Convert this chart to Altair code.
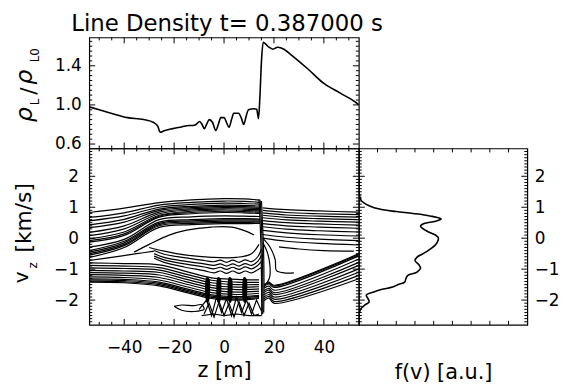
import altair as alt
import pandas as pd

FONT = "DejaVu Sans"

# ---------------- data ----------------
title_text = "Line Density t= 0.387000 s"

# line density (top panel)
dens_z = [-54, -50, -45.3, -38.7, -32.2, -28.2, -26.5, -25.6, -24, -21, -17, -14,
          -12.5, -11.2, -9.8, -8.8, -7.9, -7.0, -5.9, -4.6, -3.3, -2.3, -1.3, 0.0,
          1.0, 2.0, 3.0, 3.9, 5.8, 7.0, 7.9, 8.8, 9.8, 12.0, 13.1, 13.8, 14.4, 15.0,
          15.7, 16.8, 18.0, 19.6, 21.5, 24.0, 27.0, 33.5, 40.0, 46.6, 52.5, 54.0]
dens_rho = [0.98, 0.95, 0.915, 0.87, 0.85, 0.82, 0.78, 0.72, 0.735, 0.755, 0.775, 0.79,
            0.79, 0.80, 0.83, 0.80, 0.757, 0.80, 0.85, 0.82, 0.74, 0.80, 0.87, 0.87,
            0.82, 0.77, 0.85, 0.915, 0.915, 0.86, 0.80, 0.88, 0.95, 0.96, 0.955, 0.86, 1.10, 1.45,
            1.64, 1.62, 1.59, 1.57, 1.59, 1.57, 1.51, 1.37, 1.22, 1.12, 1.03, 1.00]

# distribution function (right panel)
fv_v = [2.9, 1.6, 1.42, 1.25, 1.15, 1.05, 0.94, 0.86, 0.80, 0.72, 0.62, 0.55, 0.45, 0.38,
        0.24, 0.10, 0.01, -0.12, -0.24, -0.40, -0.51, -0.62, -0.72, -0.85, -0.97, -1.10,
        -1.20, -1.30, -1.42, -1.50, -1.58, -1.66, -1.74, -1.84, -1.96, -2.06, -2.15, -2.25,
        -2.38, -2.54, -2.8]
fv_f = [0.0, 0.0, 0.03, 0.1, 0.25, 0.55, 1.1, 2.0, 2.9, 3.8, 4.4, 4.1, 3.4, 3.3,
        3.6, 4.1, 4.25, 4.2, 4.05, 3.7, 3.4, 3.1, 3.0, 3.2, 3.3, 3.1,
        2.62, 2.52, 2.45, 2.1, 1.8, 1.2, 0.8, 0.4, 0.5, 0.55, 0.35, 0.15,
        0.04, 0.0, 0.0]

# phase-space contour lines (bottom-left panel)
ub_left_z = [-54, -40, -26, -13, 0, 8, 14.5]
ub_left_v = [
    [0.83, 0.97, 1.15, 1.24, 1.28, 1.27, 1.23],
    [0.67, 0.82, 1.07, 1.16, 1.20, 1.19, 1.16],
    [0.56, 0.72, 1.00, 1.09, 1.13, 1.12, 1.10],
    [0.43, 0.61, 0.94, 1.03, 1.07, 1.06, 1.04],
    [0.34, 0.52, 0.89, 0.99, 1.03, 1.02, 1.00],
    [0.19, 0.40, 0.84, 0.95, 0.99, 0.98, 0.96],
    [0.08, 0.30, 0.79, 0.91, 0.95, 0.94, 0.92],
    [-0.02, 0.20, 0.74, 0.87, 0.91, 0.90, 0.88],
    [-0.08, 0.14, 0.71, 0.83, 0.87, 0.86, 0.84],
    [-0.13, 0.09, 0.68, 0.79, 0.83, 0.82, 0.80],
    [-0.29, -0.04, 0.60, 0.69, 0.72, 0.71, 0.70],
    [-0.40, -0.10, 0.52, 0.60, 0.63, 0.63, 0.62],
    [-0.45, -0.15, 0.48, 0.56, 0.59, 0.59, 0.59],
    [-0.50, -0.20, 0.44, 0.52, 0.55, 0.55, 0.55],
    [-0.55, -0.24, 0.40, 0.48, 0.51, 0.51, 0.52],
    [-0.62, -0.30, 0.35, 0.44, 0.47, 0.47, 0.48],
]
ub_right_z = [15.5, 25, 38, 54]
ub_right_v = [
    [0.98, 0.92, 0.88, 0.84],
    [0.90, 0.83, 0.79, 0.76],
    [0.82, 0.75, 0.71, 0.68],
    [0.74, 0.67, 0.63, 0.60],
    [0.66, 0.59, 0.55, 0.52],
    [0.57, 0.50, 0.46, 0.42],
    [0.47, 0.40, 0.36, 0.32],
    [0.37, 0.29, 0.24, 0.20],
    [0.25, 0.17, 0.11, 0.07],
    [0.12, 0.03, -0.03, -0.08],
    [0.00, -0.10, -0.17, -0.22],
]
lb_left_z = [-54, -40, -26, -15, -5, 5, 14]
lb_left_v = [
    [-0.80, -0.82, -0.86, -1.08, -1.28, -1.33, -1.35],
    [-0.88, -0.90, -0.95, -1.17, -1.36, -1.42, -1.43],
    [-0.96, -0.98, -1.03, -1.25, -1.44, -1.50, -1.50],
    [-1.04, -1.06, -1.11, -1.33, -1.52, -1.58, -1.57],
    [-1.11, -1.13, -1.19, -1.41, -1.60, -1.66, -1.64],
    [-1.18, -1.20, -1.27, -1.49, -1.68, -1.74, -1.71],
    [-1.25, -1.27, -1.35, -1.57, -1.76, -1.82, -1.78],
    [-1.31, -1.33, -1.42, -1.64, -1.83, -1.89, -1.85],
    [-1.35, -1.37, -1.46, -1.68, -1.87, -1.93, -1.88],
    [-1.39, -1.41, -1.50, -1.72, -1.91, -1.97, -1.92],
    [-1.42, -1.44, -1.54, -1.76, -1.95, -2.00, -1.95],
]
lb_right_z = [16, 18, 20, 54]
lb_right_v = [
    [-1.50, -1.42, -1.52, -0.50],
    [-1.53, -1.45, -1.55, -0.53],
    [-1.56, -1.48, -1.59, -0.57],
    [-1.62, -1.55, -1.68, -0.67],
    [-1.70, -1.62, -1.76, -0.78],
    [-1.76, -1.68, -1.82, -0.88],
    [-1.83, -1.75, -1.90, -0.99],
    [-1.90, -1.82, -1.97, -1.10],
    [-1.96, -1.88, -2.04, -1.20],
    [-2.02, -1.94, -2.10, -1.31],
]
wave_z = [-28, -24, -16, -8, -4, -1.5, 1, 3.5, 6, 8.5, 11, 13.5, 15]
wave_v = [
    [-0.40, -0.52, -0.63, -0.72, -0.76, -0.71, -0.78, -0.71, -0.78, -0.70, -0.76, -0.60, -0.35],
    [-0.50, -0.62, -0.74, -0.83, -0.88, -0.83, -0.90, -0.83, -0.90, -0.82, -0.88, -0.75, -0.55],
    [-0.58, -0.70, -0.83, -0.93, -0.99, -0.94, -1.01, -0.94, -1.01, -0.93, -0.99, -0.88, -0.75],
    [-0.65, -0.78, -0.93, -1.05, -1.12, -1.06, -1.14, -1.06, -1.14, -1.06, -1.12, -1.02, -0.95],
]
other_z = [
    [-36, -30, -22, -15, -5, 3, 9, 12],          # upper inner contour
    [-30, -24, -15, -5, 5, 11, 14],              # lower inner contour
    [14.0, 14.4, 14.8, 15.0, 15.1],              # shock front
    [14.5, 14.9, 15.3, 15.5, 15.5],
    [15.0, 15.4, 15.8, 16.0, 15.9],
    [15.5, 18.5, 20.5, 21.0, 24.0, 28.0],        # loops behind the shock
    [15.6, 17.5, 18.4, 18.3, 17.2],
    [-54, -45, -35, -28],                        # contour between the bands
    [22, 30, 40, 52],
    [-20, -17, -12, -9, -8, -12, -17, -20],      # small closed loop
]
other_v = [
    [-0.45, -0.20, 0.10, 0.26, 0.36, 0.36, 0.22, 0.10],
    [-0.30, -0.42, -0.55, -0.62, -0.62, -0.50, -0.20],
    [1.24, 0.60, -0.30, -1.30, -2.50],
    [1.22, 0.60, -0.30, -1.30, -2.45],
    [1.20, 0.50, -0.30, -1.30, -2.40],
    [0.00, -0.30, -0.70, -1.05, -1.12, -1.12],
    [-0.15, -0.50, -0.90, -1.25, -1.45],
    [-0.72, -0.62, -0.50, -0.42],
    [-0.28, -0.35, -0.40, -0.42],
    [-2.20, -2.16, -2.18, -2.15, -2.30, -2.37, -2.33, -2.20],
]
zig_z = [
    [-10, -7, -5, -3, -1, 1, 3, 5, 7, 9, 11, 13, 15],
    [-8, -6, -4, -2, 0, 2, 4, 6, 8, 10, 12, 14],
    [-9, -4, 0, 5, 10, 15],
]
zig_v = [
    [-2.30, -2.00, -2.50, -1.90, -2.40, -1.95, -2.50, -1.90, -2.40, -2.00, -2.45, -2.00, -2.35],
    [-2.45, -2.10, -2.55, -2.05, -2.50, -2.10, -2.55, -2.05, -2.50, -2.10, -2.50, -2.45],
    [-2.50, -2.45, -2.50, -2.45, -2.50, -2.50],
]
finger_z = [
    [-7.0, -6.7, -6.3, -6.2, -6.5, -6.9, -7.0],
    [-2.5, -2.2, -1.8, -1.7, -2.0, -2.4, -2.5],
    [2.0, 2.3, 2.7, 2.8, 2.5, 2.1, 2.0],
    [7.9, 8.2, 8.6, 8.7, 8.4, 8.0, 7.9],
]
finger_v = [
    [-1.50, -1.30, -1.35, -1.70, -2.05, -1.90, -1.50],
    [-1.50, -1.30, -1.35, -1.70, -2.05, -1.90, -1.50],
    [-1.50, -1.30, -1.35, -1.70, -2.05, -1.90, -1.50],
    [-1.50, -1.30, -1.35, -1.70, -2.05, -1.90, -1.50],
]

# tick values
z_major = [-40, -20, 0, 20, 40]
z_minor = [-50, -45, -35, -30, -25, -15, -10, -5, 5, 10, 15, 25, 30, 35, 45, 50]
v_major = [-2, -1, 0, 1, 2]
v_minor = [round(-2.7 + 0.1 * k, 2) for k in range(56) if abs(round(-2.7 + 0.1 * k, 2)) % 1 > 1e-6]
rho_major = [0.6, 1.0, 1.4]
rho_minor = [round(0.6 + 0.05 * k, 3) for k in range(22) if round(0.6 + 0.05 * k, 3) not in (0.6, 1.0, 1.4)]
f_ticks = [1, 2, 3, 4, 5, 6, 7, 8]

# ---------------- build tables ----------------
def lines_df(zsets, vsets):
    rows = []
    for lid, (zl, vl) in enumerate(zip(zsets, vsets)):
        for i, (a, b) in enumerate(zip(zl, vl)):
            rows.append({"line": lid, "i": i, "z": a, "v": b})
    return pd.DataFrame(rows)

smooth_z = ([ub_left_z] * len(ub_left_v) + [ub_right_z] * len(ub_right_v) +
            [lb_left_z] * len(lb_left_v) + [lb_right_z] * len(lb_right_v) +
            [wave_z] * len(wave_v) + other_z)
smooth_v = ub_left_v + ub_right_v + lb_left_v + lb_right_v + wave_v + other_v
df_smooth = lines_df(smooth_z, smooth_v)
df_zig = lines_df(zig_z, zig_v)
df_finger = lines_df(finger_z, finger_v)
df_dens = pd.DataFrame({"z": dens_z, "rho": dens_rho})
df_fv = pd.DataFrame({"i": list(range(len(fv_v))), "v": fv_v, "f": fv_f})
dummy = pd.DataFrame({"a": [0]})

zs = alt.Scale(domain=[-54, 54], nice=False, zero=False)
vs = alt.Scale(domain=[-2.8, 2.9], nice=False, zero=False)
rs = alt.Scale(domain=[0.555, 1.69], nice=False, zero=False)
fs = alt.Scale(domain=[0, 9], nice=False, zero=False)

MAJ, MIN = 6, 3


def x_ticks(vals, scale, H, L):
    d = pd.DataFrame({"t": vals})
    b = alt.Chart(d).mark_rule(color="black", strokeWidth=1)
    return [
        b.encode(x=alt.X("t:Q", scale=scale), y=alt.value(0), y2=alt.value(L)),
        b.encode(x=alt.X("t:Q", scale=scale), y=alt.value(H), y2=alt.value(H - L)),
    ]


def y_ticks(vals, scale, W, L):
    d = pd.DataFrame({"t": vals})
    b = alt.Chart(d).mark_rule(color="black", strokeWidth=1)
    return [
        b.encode(y=alt.Y("t:Q", scale=scale), x=alt.value(0), x2=alt.value(L)),
        b.encode(y=alt.Y("t:Q", scale=scale), x=alt.value(W), x2=alt.value(W - L)),
    ]


def label(txt, x, y, size, italic=False, angle=270, align="center", baseline="alphabetic"):
    kw = dict(text=txt, font=FONT, fontSize=size, align=align,
              baseline=baseline, color="black")
    if angle:
        kw["angle"] = angle
    if italic:
        kw["fontStyle"] = "italic"
    return alt.Chart(dummy).mark_text(**kw).encode(x=alt.value(x), y=alt.value(y))


TW, TH = 272, 112
BH = 178
RW = 170

# ---------------- top panel ----------------
dens_line = alt.Chart(df_dens).mark_line(color="black", strokeWidth=1.6, interpolate="monotone", clip=True).encode(
    x=alt.X("z:Q", scale=zs, axis=None),
    y=alt.Y("rho:Q", scale=rs, axis=alt.Axis(values=rho_major, format=".1f", ticks=False, domain=False,
                                             labelPadding=8, title=None, grid=False)),
)
top = alt.layer(
    dens_line,
    *x_ticks(z_major, zs, TH, MAJ), *x_ticks(z_minor, zs, TH, MIN),
    *y_ticks(rho_major, rs, TW, MAJ), *y_ticks(rho_minor, rs, TW, MIN),
    label("ρ", -58, 78, 24, True),
    label("L", -51, 65, 12),
    label("/", -54, 54, 22),
    label("ρ", -58, 40, 24, True),
    label("L0", -51, 18, 12),
    label(title_text, TW / 2 + 3, -25, 23, angle=0, baseline="top"),
).properties(width=TW, height=TH)

empty = alt.Chart(dummy).mark_point(opacity=0).encode(x=alt.value(0), y=alt.value(TH)).properties(
    width=RW, height=TH, view=alt.ViewBackground(strokeOpacity=0))

# ---------------- phase space ----------------
ax_z = alt.Axis(values=z_major, format="d", ticks=False, domain=False, labelPadding=15,
                title="z [m]", titlePadding=4, grid=False)
ax_v = alt.Axis(values=v_major, format="d", ticks=False, domain=False, labelPadding=11,
                title=None, grid=False)
smooth = alt.Chart(df_smooth).mark_line(color="black", strokeWidth=1.2, interpolate="catmull-rom", clip=True).encode(
    x=alt.X("z:Q", scale=zs, axis=ax_z), y=alt.Y("v:Q", scale=vs, axis=ax_v),
    detail="line:N", order="i:Q")
zig = alt.Chart(df_zig).mark_line(color="black", strokeWidth=1.2, clip=True).encode(
    x=alt.X("z:Q", scale=zs), y=alt.Y("v:Q", scale=vs),
    detail="line:N", order="i:Q")
fingers = alt.Chart(df_finger).mark_line(color="black", strokeWidth=3, interpolate="catmull-rom", clip=True).encode(
    x=alt.X("z:Q", scale=zs), y=alt.Y("v:Q", scale=vs),
    detail="line:N", order="i:Q")
bl = alt.layer(
    smooth, zig, fingers,
    *x_ticks(z_major, zs, BH, MAJ), *x_ticks(z_minor, zs, BH, MIN),
    *y_ticks(v_major, vs, TW, MAJ), *y_ticks(v_minor, vs, TW, MIN),
    label("v", -62, 130, 20),
    label("z", -53, 118, 12),
    label("[km/s]", -59, 70, 22),
).properties(width=TW, height=BH)

# ---------------- distribution ----------------
fv_line = alt.Chart(df_fv).mark_line(color="black", strokeWidth=1.6, interpolate="catmull-rom", clip=True).encode(
    x=alt.X("f:Q", scale=fs, axis=alt.Axis(labels=False, ticks=False, domain=False, title="f(v) [a.u.]",
                                           titlePadding=37, grid=False)),
    y=alt.Y("v:Q", scale=vs, axis=alt.Axis(orient="right", values=v_major, format="d", ticks=False,
                                           domain=False, labelPadding=7, title=None, grid=False)),
    order="i:Q")
right = alt.layer(
    fv_line,
    *x_ticks(f_ticks, fs, BH, MIN + 1),
    *y_ticks(v_major, vs, RW, MAJ), *y_ticks(v_minor, vs, RW, MIN),
).properties(width=RW, height=BH)

chart = alt.concat(top, empty, bl, right, columns=2, spacing=0, align="each", bounds="flush").properties(
    padding={"left": 3, "top": 2, "right": 0, "bottom": 0}
).configure_view(stroke="black", strokeWidth=1.2).configure_axis(
    labelFont=FONT, titleFont=FONT, labelFontSize=17, titleFontSize=21, labelColor="black",
    titleColor="black", titleFontWeight="normal", grid=False
)

chart.save("out.html", embed_options={"renderer": "svg", "actions": False})
